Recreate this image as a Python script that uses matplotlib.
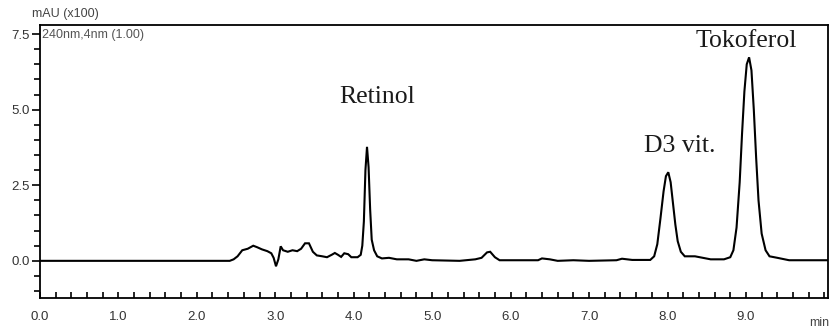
import matplotlib
matplotlib.use("Agg")
import matplotlib.pyplot as plt
from matplotlib.ticker import MultipleLocator, FixedLocator

# Retention time (min) and signal (mAU x100)
time_min = [0.00, 2.42, 2.47, 2.52, 2.58, 2.65, 2.72, 2.77, 2.83, 2.90, 2.95, 2.98,
            3.01, 3.04, 3.07, 3.10, 3.16, 3.22, 3.28, 3.33, 3.38, 3.43, 3.48, 3.53,
            3.60, 3.66, 3.72, 3.76, 3.80, 3.84, 3.88, 3.93, 3.97, 4.05, 4.09, 4.11,
            4.13, 4.15, 4.17, 4.19, 4.21, 4.23, 4.26, 4.30, 4.36, 4.45, 4.55, 4.70,
            4.80, 4.90, 5.00, 5.35, 5.55, 5.63, 5.70, 5.74, 5.80, 5.86, 6.35, 6.40,
            6.50, 6.60, 6.80, 7.00, 7.35, 7.42, 7.55, 7.78, 7.83, 7.87, 7.91, 7.95,
            7.98, 8.01, 8.04, 8.07, 8.10, 8.13, 8.17, 8.22, 8.35, 8.45, 8.55, 8.72,
            8.80, 8.84, 8.88, 8.92, 8.95, 8.98, 9.01, 9.04, 9.07, 9.10, 9.13, 9.16,
            9.20, 9.25, 9.30, 9.40, 9.55, 10.05]
signal = [0.00, 0.00, 0.05, 0.15, 0.35, 0.40, 0.50, 0.45, 0.38, 0.32, 0.25, 0.10,
          -0.18, 0.05, 0.48, 0.35, 0.30, 0.35, 0.32, 0.40, 0.58, 0.58, 0.30, 0.18,
          0.15, 0.12, 0.20, 0.26, 0.20, 0.13, 0.25, 0.22, 0.12, 0.12, 0.20, 0.50,
          1.30, 3.00, 3.77, 3.10, 1.70, 0.70, 0.35, 0.15, 0.08, 0.10, 0.05, 0.05,
          0.00, 0.05, 0.02, 0.00, 0.05, 0.10, 0.28, 0.30, 0.12, 0.02, 0.02, 0.08,
          0.05, 0.00, 0.02, 0.00, 0.02, 0.07, 0.03, 0.03, 0.15, 0.55, 1.40, 2.30,
          2.80, 2.93, 2.60, 1.90, 1.20, 0.65, 0.30, 0.15, 0.15, 0.10, 0.05, 0.05,
          0.12, 0.35, 1.10, 2.60, 4.20, 5.60, 6.50, 6.73, 6.30, 5.00, 3.40, 2.00,
          0.90, 0.35, 0.15, 0.10, 0.02, 0.02]

peak_names = ["Retinol", "D3 vit.", "Tokoferol"]
peak_label_x = [4.3, 8.15, 9.0]
peak_label_y = [5.43, 3.8, 7.27]

x_ticks = [0, 1, 2, 3, 4, 5, 6, 7, 8, 9]
x_tick_labels = ["0.0", "1.0", "2.0", "3.0", "4.0", "5.0", "6.0", "7.0", "8.0", "9.0"]
y_ticks = [0.0, 2.5, 5.0, 7.5]
y_tick_labels = ["0.0", "2.5", "5.0", "7.5"]

SANS = ["Liberation Sans", "DejaVu Sans"]

fig = plt.figure(figsize=(8.30, 3.33), dpi=100)
ax = fig.add_axes([0.048, 0.105, 0.950, 0.820])

ax.plot(time_min, signal, color="black", lw=1.5, solid_joinstyle="miter")

ax.set_xlim(0, 10.05)
ax.set_ylim(-1.23, 7.8)

ax.xaxis.set_major_locator(FixedLocator(x_ticks))
ax.set_xticklabels(x_tick_labels)
ax.xaxis.set_minor_locator(MultipleLocator(0.2))
ax.yaxis.set_major_locator(FixedLocator(y_ticks))
ax.set_yticklabels(y_tick_labels)
ax.yaxis.set_minor_locator(MultipleLocator(0.5))

for lab in ax.get_xticklabels() + ax.get_yticklabels():
    lab.set_fontfamily(SANS)
    lab.set_fontsize(9.5)
    lab.set_color("#333333")

ax.tick_params(axis="x", which="both", direction="in", length=4, width=1.2,
               pad=9, color="black")
ax.tick_params(axis="y", which="major", direction="out", length=6, width=1.2,
               pad=1.0, color="black")
ax.tick_params(axis="y", which="minor", direction="out", length=4, width=1.2,
               color="black")

for s in ax.spines.values():
    s.set_linewidth(1.3)
    s.set_color("black")

ax.text(9.93, -1.23 - 0.62, "min", ha="center", va="top", fontsize=9,
        family=SANS, color="#444444", clip_on=False)

fig.text(0.039, 0.958, "mAU (x100)", ha="left", va="center", fontsize=9,
         family=SANS, color="#444444")
ax.text(0.003, 0.985, "240nm,4nm (1.00)", transform=ax.transAxes, ha="left",
        va="top", fontsize=9, family=SANS, color="#555555")

for name, lx, ly in zip(peak_names, peak_label_x, peak_label_y):
    ax.text(lx, ly, name, ha="center", va="center", fontsize=18.5,
            family=["Liberation Serif", "DejaVu Serif"], color="#1a1a1a")

fig.savefig("out.png", dpi=100)
